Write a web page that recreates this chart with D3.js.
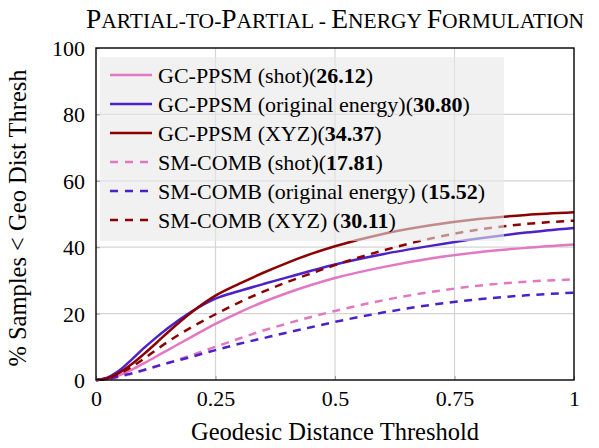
<!DOCTYPE html>
<html>
<head>
<meta charset="utf-8">
<script src="https://cdn.jsdelivr.net/npm/d3@7"></script>
<style>
  body { margin: 0; background: white; }
  svg { display: block; }
</style>
</head>
<body>
<svg id="chart" width="599" height="448" font-family="Liberation Serif"></svg>
<script>
// x positions (geodesic distance threshold) shared by every curve
const thresholds = [0, 0.025, 0.05, 0.075, 0.1, 0.125, 0.15, 0.2, 0.25, 0.3, 0.35, 0.4, 0.45, 0.5, 0.6, 0.7, 0.8, 0.9, 1.0];

// % samples below threshold
const gcShot = [0, 0.4, 1.5, 3.1, 5.0, 7.0, 9.0, 13.0, 16.9, 20.4, 23.5, 26.2, 28.6, 30.7, 34.0, 36.6, 38.5, 39.8, 40.8];
const gcOrig = [0, 0.8, 3.0, 6.2, 9.6, 12.7, 15.6, 20.6, 24.5, 26.8, 28.9, 30.9, 32.9, 34.8, 37.9, 40.4, 42.6, 44.4, 45.8];
const gcXYZ  = [0, 0.6, 2.3, 4.8, 7.8, 11.0, 14.3, 20.4, 25.4, 29.0, 32.3, 35.3, 38.0, 40.3, 44.0, 46.6, 48.5, 49.7, 50.5];
const smShot = [0, 0.3, 1.0, 1.9, 2.9, 4.0, 5.1, 7.5, 10.0, 12.5, 14.9, 17.0, 19.0, 20.8, 24.0, 26.5, 28.4, 29.6, 30.3];
const smOrig = [0, 0.4, 1.2, 2.0, 3.0, 4.1, 5.1, 7.0, 9.0, 10.9, 12.6, 14.3, 15.9, 17.5, 20.3, 22.6, 24.3, 25.5, 26.3];
const smXYZ  = [0, 0.5, 2.0, 4.0, 6.4, 9.0, 11.5, 15.9, 19.8, 23.4, 26.6, 29.5, 32.1, 34.6, 39.0, 42.6, 45.3, 47.0, 48.0];

// legend names and the bold score shown after each
const seriesNames  = ["GC-PPSM (shot)", "GC-PPSM (original energy)", "GC-PPSM (XYZ)",
                      "SM-COMB (shot)", "SM-COMB (original energy) ", "SM-COMB (XYZ) "];
const seriesScores = ["26.12", "30.80", "34.37", "17.81", "15.52", "30.11"];
const seriesValues = [gcShot, gcOrig, gcXYZ, smShot, smOrig, smXYZ];
const seriesColors = ["#e377c2", "#4b22c8", "#8b0000", "#e377c2", "#4b22c8", "#8b0000"];
const seriesDashed = [false, false, false, true, true, true];

const xTicks = [0, 0.25, 0.5, 0.75, 1];
const yTicks = [0, 20, 40, 60, 80, 100];

const FONT = "Liberation Serif";

const svg = d3.select("#chart");
const margin = { top: 48, right: 25, bottom: 68, left: 96 };
const width = 599 - margin.left - margin.right;
const height = 448 - margin.top - margin.bottom;

const x = d3.scaleLinear().domain([0, 1]).range([0, width]);
const y = d3.scaleLinear().domain([0, 100]).range([height, 0]);

const g = svg.append("g").attr("transform", `translate(${margin.left},${margin.top})`);

// grid
g.append("g")
  .selectAll("line")
  .data(xTicks.slice(1, -1))
  .join("line")
  .attr("x1", d => x(d)).attr("x2", d => x(d))
  .attr("y1", 0).attr("y2", height)
  .attr("stroke", "#d4d4d4").attr("stroke-width", 1.2);
g.append("g")
  .selectAll("line")
  .data(yTicks.slice(1, -1))
  .join("line")
  .attr("x1", 0).attr("x2", width)
  .attr("y1", d => y(d)).attr("y2", d => y(d))
  .attr("stroke", "#d4d4d4").attr("stroke-width", 1.2);

// curves
const line = d3.line()
  .x(d => x(d[0]))
  .y(d => y(d[1]))
  .curve(d3.curveMonotoneX);

seriesValues.forEach((vals, i) => {
  g.append("path")
    .datum(thresholds.map((t, j) => [t, vals[j]]))
    .attr("fill", "none")
    .attr("stroke", seriesColors[i])
    .attr("stroke-width", 2.5)
    .attr("stroke-dasharray", seriesDashed[i] ? "8,6.5" : null)
    .attr("d", line);
});

// axes
const xAxis = g.append("g")
  .attr("transform", `translate(0,${height})`)
  .call(d3.axisBottom(x).tickValues(xTicks).tickFormat(d => String(d)).tickSize(-4));
const yAxis = g.append("g")
  .call(d3.axisLeft(y).tickValues(yTicks).tickSize(-4));

[xAxis, yAxis].forEach(a => {
  a.attr("font-family", FONT).attr("font-size", null);
  a.select(".domain").remove();
  a.selectAll(".tick line").attr("stroke", "#999");
  a.selectAll("text")
    .attr("font-family", FONT)
    .attr("font-size", "22px")
    .attr("fill", "#000");
});
xAxis.selectAll("text").attr("y", 10).attr("dy", "0.71em");
yAxis.selectAll("text").attr("x", -11).attr("dy", "0.34em");

// frame
g.append("rect")
  .attr("width", width).attr("height", height)
  .attr("fill", "none").attr("stroke", "#000").attr("stroke-width", 1.4);

// legend
const legend = g.append("g").attr("transform", "translate(4,9)");
legend.append("rect")
  .attr("width", 404).attr("height", 184)
  .attr("fill", "#e8e8e8").attr("fill-opacity", 0.6);

const rows = legend.selectAll("g.row")
  .data(seriesNames)
  .join("g")
  .attr("transform", (d, i) => `translate(0,${18 + i * 29})`);

rows.append("line")
  .attr("x1", 10).attr("x2", 52)
  .attr("stroke", (d, i) => seriesColors[i])
  .attr("stroke-width", 2.5)
  .attr("stroke-dasharray", (d, i) => seriesDashed[i] ? "8,7" : null);

const rowText = rows.append("text")
  .attr("x", 58).attr("dy", "0.35em")
  .attr("font-family", FONT)
  .attr("font-size", "22px").attr("fill", "#000");
rowText.append("tspan").text(d => d + "(");
rowText.append("tspan").attr("font-weight", "bold").text((d, i) => seriesScores[i]);
rowText.append("tspan").text(")");

// title in small caps, built by hand
const titleStr = "Partial-to-Partial - Energy Formulation";
const parts = [];
for (const ch of titleStr) {
  const big = ch !== ch.toLowerCase();
  const last = parts[parts.length - 1];
  if (last && last.big === big) last.s += ch.toUpperCase();
  else parts.push({ big, s: ch.toUpperCase() });
}
const title = svg.append("text")
  .attr("x", margin.left + width / 2).attr("y", 28)
  .attr("text-anchor", "middle")
  .attr("font-family", FONT);
title.selectAll("tspan")
  .data(parts)
  .join("tspan")
  .attr("font-size", d => d.big ? "27.5px" : "21.5px")
  .text(d => d.s);

// axis titles
svg.append("text")
  .attr("x", margin.left + width / 2).attr("y", 440)
  .attr("text-anchor", "middle")
  .attr("font-family", FONT)
  .attr("font-size", "24.5px")
  .text("Geodesic Distance Threshold");

svg.append("text")
  .attr("transform", `translate(26,${margin.top + height / 2 + 4}) rotate(-90)`)
  .attr("text-anchor", "middle")
  .attr("font-family", FONT)
  .attr("font-size", "24.5px")
  .text("% Samples < Geo Dist Thresh");
</script>
</body>
</html>
